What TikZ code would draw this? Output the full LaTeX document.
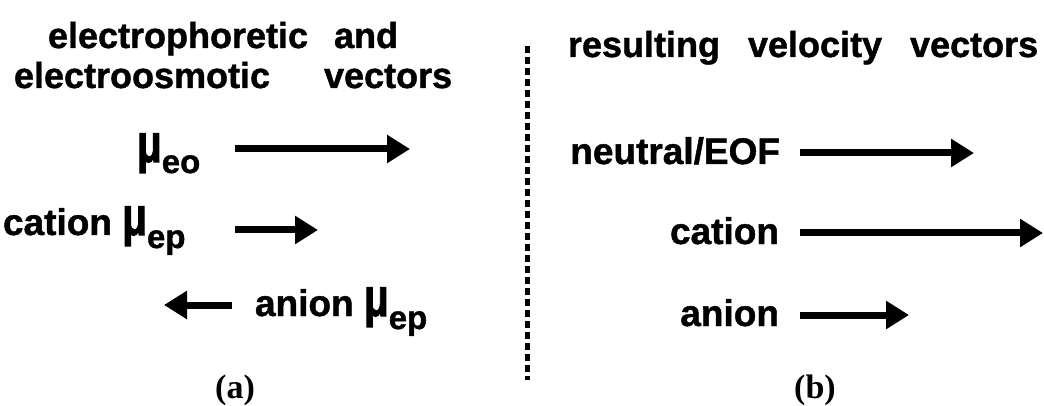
\documentclass[tikz,border=0pt]{standalone}
\usepackage{fontspec}
\usepackage{graphicx}
\usetikzlibrary{arrows.meta}
\newfontfamily\labfont[FakeBold=1.2]{Liberation Sans}
\newfontfamily\mufontfam[FakeBold=2]{Liberation Sans}
\newfontfamily\capfont{Liberation Serif}
\newcommand\titlef{\labfont\bfseries\fontsize{36}{40}\selectfont}
\newcommand\labf{\labfont\bfseries\fontsize{37}{42}\selectfont}
\newcommand\subf{\labfont\bfseries\fontsize{33}{36}\selectfont}
\newcommand\mymu{\scalebox{0.75}[1]{\mufontfam\bfseries\fontsize{54}{54}\selectfont μ}}
\newcommand\musub[2]{\mymu\raisebox{-#2}{\subf #1}}
\tikzset{
  txt/.style={inner sep=0pt, outer sep=0pt, anchor=base west},
  rtxt/.style={inner sep=0pt, outer sep=0pt, anchor=base east},
  vec/.style={line width=7pt, -{Triangle[length=23pt,width=27pt]}},
  sep/.style={line width=5pt, dash pattern=on 7pt off 4pt},
  capt/.style={inner sep=0pt, anchor=base, font=\capfont\bfseries\fontsize{34}{38}\selectfont}
}
\begin{document}
\begin{tikzpicture}[x=1pt,y=-1pt]
\useasboundingbox (0,0) rectangle (1044,406);
% left panel
\node[txt] (t1) at (48,48) {\titlef electrophoretic\hspace{26pt}and};
\node[txt] (t2) at (14,88) {\titlef electroosmotic\hspace{54pt}vectors};
\node[txt] (eo) at (137,162) {\musub{eo}{11pt}};
\node[txt] (cat) at (3,235) {\labf cation \musub{ep}{13pt}};
\node[txt] (an) at (255,316) {\labf anion \musub{ep}{13pt}};
\coordinate (e1s) at (235,149); \coordinate (e1e) at (410,149);
\coordinate (c1s) at (235,230); \coordinate (c1e) at (318,230);
\coordinate (n1s) at (232,305); \coordinate (n1e) at (164,305);
\draw[vec] (e1s) -- (e1e);
\draw[vec] (c1s) -- (c1e);
\draw[vec] (n1s) -- (n1e);
\node[capt] (la) at (235,398) {(a)};
% separator
\coordinate (d1) at (527,46); \coordinate (d2) at (527,380);
\draw[sep] (d1) -- (d2);
% right panel
\node[txt] (t3) at (568,57) {\titlef resulting\hspace{28pt}velocity\hspace{28pt}vectors};
\node[rtxt] (neu) at (780,164) {\labf neutral/EOF};
\node[rtxt] (cr) at (779,244) {\labf cation};
\node[rtxt] (ar) at (779,326) {\labf anion};
\coordinate (r1s) at (800,153); \coordinate (r1e) at (974,153);
\coordinate (r2s) at (800,233); \coordinate (r2e) at (1043,233);
\coordinate (r3s) at (800,315); \coordinate (r3e) at (909,315);
\draw[vec] (r1s) -- (r1e);
\draw[vec] (r2s) -- (r2e);
\draw[vec] (r3s) -- (r3e);
\node[capt] (lb) at (815,398) {(b)};
\end{tikzpicture}
\end{document}
